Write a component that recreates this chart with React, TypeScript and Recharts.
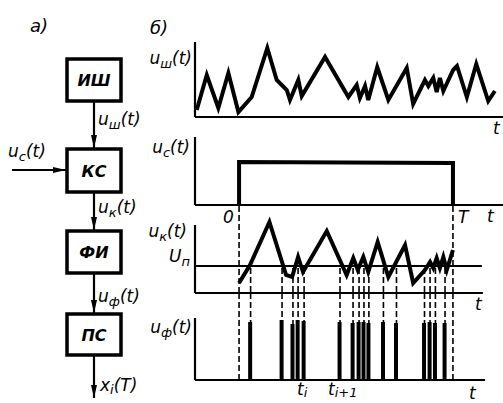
import React from 'react';
import { LineChart, Line, XAxis, YAxis, ReferenceLine, ComposedChart, Bar } from 'recharts';

// time units: 0 = start of the window, 100 = T
const T = 100;
const tMin = -20.6;
const tMax = 123.4;
const threshold = 27;

// u_ш(t): noise at the output of the generator
const noiseT = [-19.8, -15.1, -9.7, -5.0, -0.3, 5.9, 13.2, 17.6, 22.3, 23.8, 27.7, 29.3, 40.2, 51.1, 55.0, 56.5, 58.9, 60.4, 64.6, 69.8, 78.4, 81.4, 86.9, 88.5, 90.8, 92.4, 93.9, 95.5, 100.1, 101.9, 106.5, 110.9, 116.5, 119.6];
const noiseV = [7, 42, 9, 44, 5, 20, 69, 37, 27, 17, 37, 21, 60, 20, 32, 19, 31, 17, 50, 17, 49, 13, 37, 31, 39, 25, 39, 26, 47, 51, 20, 53, 16, 26];

// u_c(t): gate pulse from 0 to T
const gateT = [0, 0, T, T];
const gateV = [0, 43, 42, 0];

// u_к(t): noise passed through the gate
const gatedT = [0, 5.1, 14.2, 22.0, 24.8, 27.6, 29.9, 41.0, 50.3, 53.4, 55.5, 58.1, 60.4, 64.8, 69.8, 77.6, 81.4, 86.9, 89.3, 90.8, 92.4, 93.9, 95.5, 97.1, 100];
const gatedV = [10, 28, 71, 18, 16, 36, 21, 62, 18, 35, 23, 36, 21, 51, 16, 48, 10, 23, 31, 25, 35, 25, 36, 23, 43];

// u_ф(t): pulses at threshold crossings
const pulseT = [5.4, 20.1, 25.2, 27.6, 30.4, 47.2, 53.3, 56.1, 58.4, 60.7, 67.5, 73.6, 86.7, 89.3, 91.8, 96.3];
const pulseV = [58, 60, 56, 60, 59, 58, 57, 58, 58, 57, 58, 57, 57, 58, 57, 57];

const noiseData = noiseT.map((t, i) => ({ t, v: noiseV[i] }));
const gateData = gateT.map((t, i) => ({ t, v: gateV[i] }));
const gatedData = gatedT.map((t, i) => ({ t, v: gatedV[i] }));
const pulseData = pulseT.map((t, i) => ({ t, v: pulseV[i] }));

const font = '"DejaVu Sans", sans-serif';
const margin = { top: 0, right: 0, bottom: 3, left: 5 };
const axisStroke = { stroke: '#000', strokeWidth: 2.2 };
const dash = { stroke: '#000', strokeWidth: 1.6, strokeDasharray: '6 3' };

const Sym = ({ b, s, a, style, subTop = 4 }: { b: string; s?: string; a?: string; style: React.CSSProperties; subTop?: number }) => (
  <span
    style={{
      position: 'absolute',
      fontFamily: font,
      fontStyle: 'italic',
      fontSize: 17,
      lineHeight: '17px',
      whiteSpace: 'nowrap',
      color: '#000',
      ...style
    }}
  >
    {b}
    {s && <span style={{ fontSize: 13, position: 'relative', top: subTop }}>{s}</span>}
    {a}
  </span>
);

const boxes = [
  { label: 'ИШ', y: 59, h: 42 },
  { label: 'КС', y: 149, h: 43 },
  { label: 'ФИ', y: 231, h: 42 },
  { label: 'ПС', y: 314, h: 41 }
];

const Arrow = ({ x1, y1, x2, y2 }: { x1: number; y1: number; x2: number; y2: number }) => {
  const vert = x1 === x2;
  const head = vert
    ? `${x2},${y2} ${x2 - 3},${y2 - 13} ${x2 + 3},${y2 - 13}`
    : `${x2},${y2} ${x2 - 13},${y2 - 3} ${x2 - 13},${y2 + 3}`;
  return (
    <g>
      <line x1={x1} y1={y1} x2={x2} y2={y2} stroke="#000" strokeWidth={2.2} />
      <polygon points={head} fill="#000" />
    </g>
  );
};

const BlockDiagram = () => (
  <svg width={503} height={403} style={{ position: 'absolute', left: 0, top: 0 }}>
    {boxes.map((b) => (
      <g key={b.label}>
        <rect x={67} y={b.y} width={54} height={b.h} fill="#fff" stroke="#000" strokeWidth={3.5} />
        <text
          x={94}
          y={b.y + b.h / 2 + 6}
          textAnchor="middle"
          fontFamily={font}
          fontStyle="italic"
          fontWeight="bold"
          fontSize={16}
        >
          {b.label}
        </text>
      </g>
    ))}
    <Arrow x1={94} y1={101} x2={94} y2={148} />
    <Arrow x1={94} y1={192} x2={94} y2={230} />
    <Arrow x1={94} y1={273} x2={94} y2={313} />
    <Arrow x1={94} y1={355} x2={94} y2={398} />
    <Arrow x1={12} y1={170} x2={66} y2={170} />
  </svg>
);

const App: React.FC = () => {
  return (
    <div
      style={{
        position: 'fixed',
        left: 0,
        top: 0,
        width: 503,
        height: 403,
        background: '#fff',
        overflow: 'hidden'
      }}
    >
      <BlockDiagram />

      {/* u_ш(t) */}
      <div style={{ position: 'absolute', left: 190, top: 40 }}>
        <LineChart width={313} height={80} margin={margin}>
          <XAxis type="number" dataKey="t" domain={[tMin, tMax]} hide />
          <YAxis type="number" domain={[0, 77]} hide />
          <ReferenceLine segment={[{ x: tMin, y: 0 }, { x: tMin, y: 75 }]} {...axisStroke} ifOverflow="visible" />
          <ReferenceLine segment={[{ x: tMin, y: 0 }, { x: tMax, y: 0 }]} {...axisStroke} ifOverflow="visible" />
          <Line data={noiseData} dataKey="v" type="linear" stroke="#000" strokeWidth={4} dot={false} isAnimationActive={false} />
        </LineChart>
      </div>

      {/* u_c(t) */}
      <div style={{ position: 'absolute', left: 190, top: 130 }}>
        <LineChart width={313} height={78} margin={margin}>
          <XAxis type="number" dataKey="t" domain={[tMin, tMax]} hide />
          <YAxis type="number" domain={[0, 75]} hide />
          <ReferenceLine segment={[{ x: tMin, y: 0 }, { x: tMin, y: 68 }]} {...axisStroke} ifOverflow="visible" />
          <ReferenceLine segment={[{ x: tMin, y: 0 }, { x: tMax, y: 0 }]} {...axisStroke} ifOverflow="visible" />
          <Line data={gateData} dataKey="v" type="linear" stroke="#000" strokeWidth={4} dot={false} isAnimationActive={false} />
        </LineChart>
      </div>

      {/* u_к(t) */}
      <div style={{ position: 'absolute', left: 190, top: 205 }}>
        <LineChart width={313} height={91} margin={margin}>
          <XAxis type="number" dataKey="t" domain={[tMin, tMax]} hide />
          <YAxis type="number" domain={[0, 88]} hide />
          <ReferenceLine segment={[{ x: tMin, y: 0 }, { x: tMin, y: 68 }]} {...axisStroke} ifOverflow="visible" />
          <ReferenceLine segment={[{ x: tMin, y: 0 }, { x: 114, y: 0 }]} {...axisStroke} ifOverflow="visible" />
          <ReferenceLine segment={[{ x: tMin, y: threshold }, { x: 113.5, y: threshold }]} stroke="#000" strokeWidth={1.8} ifOverflow="visible" />
          <ReferenceLine x={0} {...dash} />
          <ReferenceLine x={T} {...dash} />
          {pulseT.map((t) => (
            <ReferenceLine key={t} segment={[{ x: t, y: threshold - 2 }, { x: t, y: 0 }]} {...dash} />
          ))}
          <Line data={gatedData} dataKey="v" type="linear" stroke="#000" strokeWidth={4} dot={false} isAnimationActive={false} />
        </LineChart>
      </div>

      {/* u_ф(t) */}
      <div style={{ position: 'absolute', left: 190, top: 293 }}>
        <ComposedChart width={313} height={92} margin={{ ...margin, bottom: 5 }} data={pulseData}>
          <XAxis type="number" dataKey="t" domain={[tMin, tMax]} hide />
          <YAxis type="number" domain={[0, 87]} hide />
          <ReferenceLine x={0} {...dash} />
          <ReferenceLine x={T} {...dash} />
          {pulseT.map((t) => (
            <ReferenceLine key={t} x={t} {...dash} />
          ))}
          <Bar dataKey="v" fill="#000" barSize={4} isAnimationActive={false} />
          <ReferenceLine segment={[{ x: tMin, y: 0 }, { x: tMin, y: 62 }]} {...axisStroke} ifOverflow="visible" />
          <ReferenceLine segment={[{ x: tMin, y: 0 }, { x: 115, y: 0 }]} {...axisStroke} ifOverflow="visible" />
        </ComposedChart>
      </div>

      {/* panel letters */}
      <Sym b="а)" style={{ left: 30, top: 17, fontSize: 18 }} />
      <Sym b="б)" style={{ left: 150, top: 19, fontSize: 18 }} />

      {/* block diagram signals */}
      <Sym b="u" s="ш" a="(t)" style={{ left: 98, top: 111 }} />
      <Sym b="u" s="c" a="(t)" style={{ left: 8, top: 143 }} />
      <Sym b="u" s="к" a="(t)" style={{ left: 98, top: 199 }} />
      <Sym b="u" s="ф" a="(t)" style={{ left: 98, top: 288 }} />
      <Sym b="x" s="i" a="(T)" style={{ left: 100, top: 377 }} subTop={3} />

      {/* timing diagram labels */}
      <Sym b="u" s="ш" a="(t)" style={{ right: 503 - 192, top: 50 }} />
      <Sym b="u" s="c" a="(t)" style={{ right: 503 - 190, top: 139 }} />
      <Sym b="u" s="к" a="(t)" style={{ right: 503 - 187, top: 223 }} />
      <Sym b="U" s="п" style={{ right: 503 - 190, top: 248 }} />
      <Sym b="u" s="ф" a="(t)" style={{ right: 503 - 192, top: 319 }} />

      <Sym b="t" style={{ left: 493, top: 120 }} />
      <Sym b="0" style={{ left: 223, top: 209 }} />
      <Sym b="T" style={{ left: 458, top: 209 }} />
      <Sym b="t" style={{ left: 487, top: 208 }} />
      <Sym b="t" style={{ left: 475, top: 296 }} />
      <Sym b="t" s="i" style={{ left: 297, top: 382, lineHeight: '15px' }} subTop={2} />
      <Sym b="t" s="i+1" style={{ left: 328, top: 382, lineHeight: '15px' }} subTop={2} />
      <Sym b="t" style={{ left: 469, top: 385 }} />
    </div>
  );
};

export default App;
